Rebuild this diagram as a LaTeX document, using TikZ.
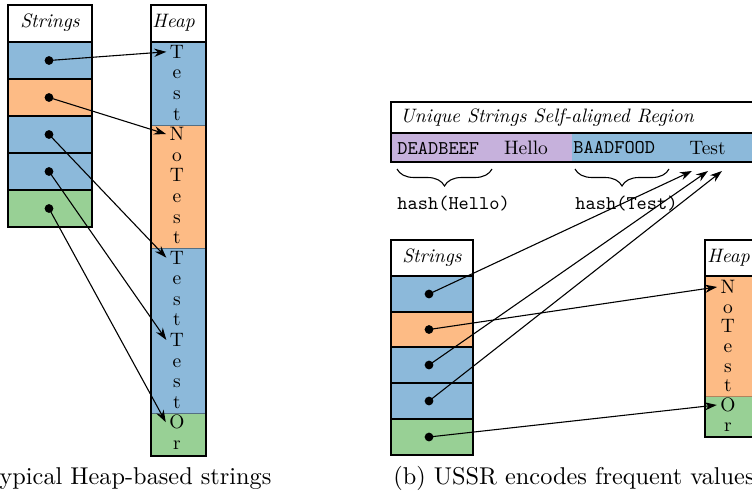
\documentclass[tikz,border=0pt]{standalone}
\usetikzlibrary{arrows.meta,decorations.pathreplacing}
\definecolor{cblue}{HTML}{8CB9DA}
\definecolor{corange}{HTML}{FDBB85}
\definecolor{cgreen}{HTML}{98D095}
\definecolor{cpurple}{HTML}{C6B1DC}
\newcommand{\smtx}[1]{\scalebox{0.8}{#1}}
\tikzset{
  dtext/.style={font=\fontsize{10}{12}\selectfont, inner sep=0pt},
  letter/.style={dtext, inner xsep=1.3pt, inner ysep=0pt, anchor=base},
  boxline/.style={line width=0.55pt, draw=black},
  sepline/.style={line width=0.35pt},
  dot/.style={circle, fill=black, inner sep=0pt, minimum size=3.6pt},
  arr/.style={line width=0.45pt, -{Stealth[length=5pt,width=3.4pt]}},
  bracestyle/.style={line width=0.45pt, decorate, decoration={brace, mirror, amplitude=7pt}},
  captext/.style={font=\fontsize{10}{12}\selectfont, inner sep=0pt, anchor=base}
}
\begin{document}
\begin{tikzpicture}[x=0.4115pt,y=-0.4115pt]
\useasboundingbox (0,0) rectangle (752,500);
\clip (0,0) rectangle (752,500);

% ---------------- (a) left: Strings ----------------
\foreach \t/\b/\c in {42/79/cblue,79/116/corange,116/153/cblue,153/190/cblue,190/227/cgreen}
  \filldraw[fill=\c, boxline] (8,\t) rectangle (92,\b);
\draw[boxline] (8,5) rectangle (92,227);
\node[dtext] (lstr) at (50,23) {\smtx{\itshape Strings}};
\node[dot] (a1) at (49,60.5) {};
\node[dot] (a2) at (49,97.5) {};
\node[dot] (a3) at (49,134.5) {};
\node[dot] (a4) at (49,171.5) {};
\node[dot] (a5) at (49,208.5) {};

% ---------------- (a) left: Heap ----------------
\fill[cblue] (151,42) rectangle (206,125);
\fill[corange] (151,125) rectangle (206,248);
\fill[cblue] (151,248) rectangle (206,413);
\fill[cgreen] (151,413) rectangle (206,456);
\draw[sepline, cblue!60!black] (151,125) -- (206,125);
\draw[sepline, cblue!60!black] (151,248) -- (206,248);
\draw[sepline, cblue!60!black] (151,413) -- (206,413);
\draw[boxline] (151,5) rectangle (206,456);
\draw[boxline] (151,42) -- (206,42);
\node[dtext, anchor=west] (lheap) at (152,23) {\smtx{\itshape Heap}};
\foreach \c [count=\i from 0] in {T,e,s,t,N,o,T,e,s,t,T,e,s,t,T,e,s,t,O,r}
  \node[letter] (L\i) at (177,58.4+20.58*\i) {\smtx{\c}};

\draw[arr] (a1.center) -- (L0.west);
\draw[arr] (a2.center) -- (L4.west);
\draw[arr] (a3.center) -- (L10.west);
\draw[arr] (a4.center) -- (L14.west);
\draw[arr] (a5.center) -- (L18.west);

% ---------------- (b) right: USSR region ----------------
\fill[cpurple] (391,133) rectangle (572,162);
\fill[cblue] (572,133) rectangle (790,162);
\draw[boxline] (391,102) rectangle (790,162);
\draw[boxline] (391,133) -- (790,133);
\node[dtext, anchor=west] (ussr) at (400,118) {\smtx{\itshape Unique Strings Self-aligned Region}};
\node[dtext, anchor=west] (dead) at (397,148) {\smtx{\ttfamily DEADBEEF}};
\node[dtext] (hello) at (526,148) {\smtx{Hello}};
\node[dtext, anchor=west] (baad) at (573,148) {\smtx{\ttfamily BAADFOOD}};
\node[dtext] (test) at (707.5,148) {\smtx{Test}};
\coordinate (b1s) at (397,169);
\coordinate (b1e) at (492,169);
\coordinate (b2s) at (575,169);
\coordinate (b2e) at (669,169);
\draw[bracestyle] (b1s) -- (b1e);
\draw[bracestyle] (b2s) -- (b2e);
\node[dtext, anchor=base west] (hh) at (397,209) {\smtx{\ttfamily hash(Hello)}};
\node[dtext, anchor=base west] (ht) at (575,209) {\smtx{\ttfamily hash(Test)}};
\coordinate (t1) at (692,171);
\coordinate (t2) at (708,171);
\coordinate (t3) at (722,171);

% ---------------- (b) right: Strings ----------------
\foreach \t/\b/\c in {276/312/cblue,312/347/corange,347/383/cblue,383/419/cblue,419/455/cgreen}
  \filldraw[fill=\c, boxline] (391,\t) rectangle (473,\b);
\draw[boxline] (391,240) rectangle (473,455);
\node[dtext] (rstr) at (432,258) {\smtx{\itshape Strings}};
\node[dot] (b1) at (429,294) {};
\node[dot] (b2) at (429,329.5) {};
\node[dot] (b3) at (429,365) {};
\node[dot] (b4) at (429,401) {};
\node[dot] (b5) at (429,437) {};

% ---------------- (b) right: Heap ----------------
\fill[corange] (705,276) rectangle (760,396);
\fill[cgreen] (705,396) rectangle (760,437);
\draw[sepline, corange!70!black] (705,396) -- (760,396);
\draw[boxline] (705,240) rectangle (760,437);
\draw[boxline] (705,276) -- (760,276);
\node[dtext, anchor=west] (rheap) at (707,258) {\smtx{\itshape Heap}};
\foreach \c [count=\i from 0] in {N,o,T,e,s,t,O,r}
  \node[letter] (R\i) at (728,293.6+19.67*\i) {\smtx{\c}};

\draw[arr] (b1.center) -- (t1);
\draw[arr] (b2.center) -- (R0.west);
\draw[arr] (b3.center) -- (t2);
\draw[arr] (b4.center) -- (t3);
\draw[arr] (b5.center) -- (R6.west);

% ---------------- captions ----------------
\node[captext] (capa) at (107.5,484) {(a) Typical Heap-based strings};
\node[captext] (capb) at (574,484) {(b) USSR encodes frequent values};
\end{tikzpicture}
\end{document}
